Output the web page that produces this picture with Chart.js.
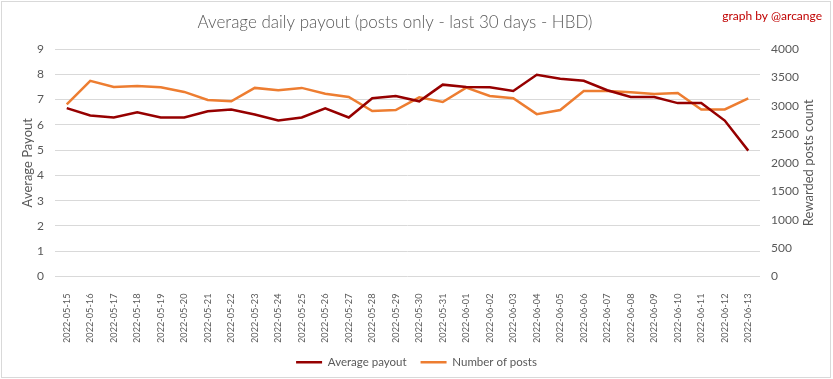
<!DOCTYPE html>
<html>
<head>
<meta charset="utf-8">
<script src="https://cdn.jsdelivr.net/npm/chart.js@4/dist/chart.umd.min.js"></script>
<style>
html,body{margin:0;padding:0;background:#fff;}
#wrap{width:833px;height:379px;position:relative;}
</style>
</head>
<body>
<div id="wrap"><canvas id="c" width="833" height="379"></canvas></div>
<script>
const categories = ["2022-05-15","2022-05-16","2022-05-17","2022-05-18","2022-05-19","2022-05-20","2022-05-21","2022-05-22","2022-05-23","2022-05-24","2022-05-25","2022-05-26","2022-05-27","2022-05-28","2022-05-29","2022-05-30","2022-05-31","2022-06-01","2022-06-02","2022-06-03","2022-06-04","2022-06-05","2022-06-06","2022-06-07","2022-06-08","2022-06-09","2022-06-10","2022-06-11","2022-06-12","2022-06-13"];
const averagePayout = [6.66,6.37,6.29,6.50,6.29,6.29,6.54,6.61,6.41,6.17,6.29,6.65,6.29,7.05,7.14,6.93,7.59,7.50,7.49,7.34,7.98,7.82,7.74,7.37,7.10,7.10,6.86,6.86,6.17,4.98];
const numberOfPosts = [3027,3439,3333,3351,3327,3245,3103,3080,3316,3274,3316,3215,3156,2908,2926,3150,3068,3322,3174,3133,2855,2926,3262,3262,3239,3209,3227,2938,2938,3133];
const leftTicks = {min:0, max:9, step:1};
const rightTicks = {min:0, max:4000, step:500};
const titleText = "Average daily payout (posts only - last 30 days - HBD)";
const creditText = "graph by @arcange";
const leftAxisTitle = "Average Payout";
const rightAxisTitle = "Rewarded posts count";

const FONT = "Lato, 'Open Sans', sans-serif";
const GREY = "#595959";

const decor = {
  id:'decor',
  afterDraw(chart){
    const ctx = chart.ctx;
    ctx.save();
    ctx.strokeStyle = '#d9d9d9';
    ctx.lineWidth = 1;
    ctx.strokeRect(1.5,1.5,829,376);
    ctx.fillStyle = GREY;
    ctx.font = "300 17px " + FONT;
    ctx.textAlign = 'center';
    ctx.textBaseline = 'middle';
    ctx.fillText(titleText, 395, 23);
    ctx.fillStyle = '#c00000';
    ctx.font = "12px " + FONT;
    ctx.textAlign = 'right';
    ctx.fillText(creditText, 822, 16);
    const ya = chart.scales.y1;
    ctx.fillStyle = GREY;
    ctx.font = "13px " + FONT;
    ctx.translate(809, (ya.top + ya.bottom)/2);
    ctx.rotate(-Math.PI/2);
    ctx.textAlign = 'center';
    ctx.textBaseline = 'middle';
    ctx.fillText(rightAxisTitle, 0, 0);
    ctx.restore();
  }
};

new Chart(document.getElementById('c'), {
  type:'line',
  data:{
    labels: categories,
    datasets:[
      {label:'Average payout', data: averagePayout, yAxisID:'y', borderColor:'#960000', backgroundColor:'#960000', borderWidth:2.5, pointRadius:0, tension:0},
      {label:'Number of posts', data: numberOfPosts, yAxisID:'y1', borderColor:'#ED7D31', backgroundColor:'#ED7D31', borderWidth:2.5, pointRadius:0, tension:0}
    ]
  },
  options:{
    responsive:false,
    animation:false,
    layout:{padding:{top:49,left:0,right:0,bottom:1}},
    plugins:{
      title:{display:false},
      tooltip:{enabled:false},
      legend:{
        position:'bottom',
        labels:{
          usePointStyle:true,
          pointStyle:'line',
          pointStyleWidth:26,
          color:GREY,
          font:{family:FONT,size:11.5},
          padding:14
        }
      }
    },
    scales:{
      x:{
        offset:true,
        grid:{display:false},
        border:{display:false},
        ticks:{color:GREY, font:{family:FONT,size:9.2}, minRotation:90, maxRotation:90, autoSkip:false, padding:9},
        afterFit(s){ s.height = 66; }
      },
      y:{
        position:'left',
        min:leftTicks.min, max:leftTicks.max,
        ticks:{stepSize:leftTicks.step, color:GREY, font:{family:FONT,size:12}, padding:11},
        grid:{color:'#d9d9d9', drawTicks:false, lineWidth:1},
        border:{display:false},
        title:{display:true, text:leftAxisTitle, color:GREY, font:{family:FONT,size:13}, padding:{top:20,bottom:0}},
        afterFit(s){ s.width = 55; }
      },
      y1:{
        position:'right',
        min:rightTicks.min, max:rightTicks.max,
        ticks:{stepSize:rightTicks.step, color:GREY, font:{family:FONT,size:12}, padding:11, callback:(v)=>String(v)},
        grid:{display:false, drawTicks:false},
        border:{display:false},
        afterFit(s){ s.width = 73; }
      }
    }
  },
  plugins:[decor]
});
</script>
</body>
</html>
